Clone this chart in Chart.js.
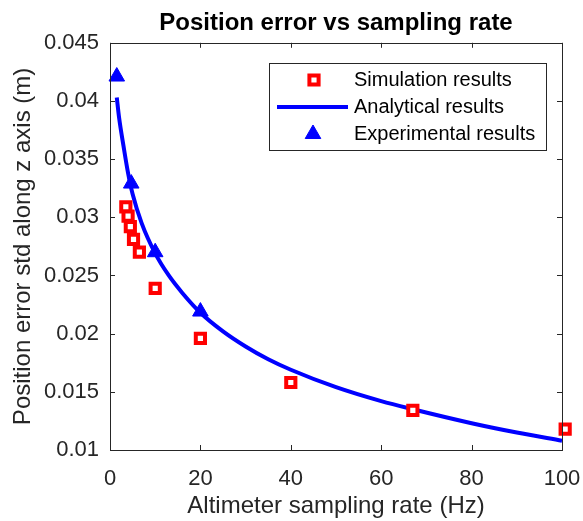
<!DOCTYPE html>
<html>
<head>
<meta charset="utf-8">
<script src="https://cdn.jsdelivr.net/npm/chart.js@4.4.0/dist/chart.umd.min.js"></script>
<style>
  html, body { margin: 0; padding: 0; background: #fff; }
</style>
</head>
<body>
<canvas id="posChart" width="583" height="521"></canvas>
<script>
// values
const simRate = [3.5, 4, 4.5, 5.2, 6.5, 10, 20, 40, 67, 100.7];
const simError = [0.0309, 0.0301, 0.0292, 0.0281, 0.0270, 0.0239, 0.0196, 0.0158, 0.0134, 0.0118];

const anaRate = [1.5, 2, 3, 4, 5, 7, 10, 13, 16, 20, 25, 30, 35, 40, 50, 60, 67, 80, 90, 100];
const anaError = [0.0403, 0.0386, 0.0361, 0.0338, 0.0320, 0.0295, 0.0269, 0.0250, 0.0235, 0.0218,
                  0.0202, 0.0189, 0.0178, 0.0169, 0.0154, 0.0142, 0.0135, 0.0123, 0.0115, 0.0108];

const expRate = [1.5, 4.7, 10, 20];
const expError = [0.0421, 0.0329, 0.0270, 0.0219];

const xTicks = [0, 20, 40, 60, 80, 100];
const yTicks = [0.01, 0.015, 0.02, 0.025, 0.03, 0.035, 0.04, 0.045];
const yTickLabels = ['0.01', '0.015', '0.02', '0.025', '0.03', '0.035', '0.04', '0.045'];

const seriesNames = ['Simulation results', 'Analytical results', 'Experimental results'];

const FONT = '"Liberation Sans", Arial, Helvetica, sans-serif';
const TEXT = '#262626';

const toXY = (xs, ys) => xs.map((x, i) => ({ x, y: ys[i] }));

// MATLAB style box with inward ticks on all four sides + legend inside the axes
const matlabFrame = {
  id: 'matlabFrame',
  afterDatasetsDraw(chart) {
    const { ctx, chartArea: a, scales: { x, y } } = chart;
    ctx.save();
    ctx.strokeStyle = TEXT;
    ctx.lineWidth = 1;
    ctx.beginPath();
    xTicks.forEach(v => {
      const px = Math.round(x.getPixelForValue(v)) + 0.5;
      ctx.moveTo(px, a.bottom); ctx.lineTo(px, a.bottom - 5);
      ctx.moveTo(px, a.top); ctx.lineTo(px, a.top + 5);
    });
    yTicks.forEach(v => {
      const py = Math.round(y.getPixelForValue(v)) + 0.5;
      ctx.moveTo(a.left, py); ctx.lineTo(a.left + 5, py);
      ctx.moveTo(a.right, py); ctx.lineTo(a.right - 5, py);
    });
    ctx.stroke();
    ctx.strokeRect(Math.round(a.left) + 0.5, Math.round(a.top) + 0.5,
                   Math.round(a.right - a.left), Math.round(a.bottom - a.top));
    ctx.restore();
  },
  afterDraw(chart) {
    const ctx = chart.ctx;
    const bx = 269.5, by = 63.5, bw = 277, bh = 87;
    ctx.save();
    ctx.fillStyle = '#fff';
    ctx.fillRect(bx, by, bw, bh);
    ctx.strokeStyle = TEXT;
    ctx.lineWidth = 1;
    ctx.strokeRect(bx, by, bw, bh);

    const rows = [80, 107, 134];
    ctx.font = '20px ' + FONT;
    ctx.fillStyle = '#000';
    ctx.textBaseline = 'middle';
    rows.forEach((ry, i) => ctx.fillText(seriesNames[i], 354, ry));

    const ds = chart.data.datasets;
    // square
    ctx.strokeStyle = ds[0].borderColor;
    ctx.fillStyle = ds[0].backgroundColor;
    ctx.lineWidth = ds[0].borderWidth;
    Chart.helpers.drawPoint(ctx, { pointStyle: 'rect', radius: ds[0].pointRadius, borderWidth: ds[0].borderWidth, rotation: 0 }, 314, rows[0]);
    // line
    ctx.strokeStyle = ds[1].borderColor;
    ctx.lineWidth = ds[1].borderWidth;
    ctx.beginPath(); ctx.moveTo(277, rows[1]); ctx.lineTo(348, rows[1]); ctx.stroke();
    // triangle
    ctx.lineWidth = 1;
    ctx.strokeStyle = ds[2].borderColor;
    ctx.fillStyle = ds[2].backgroundColor;
    Chart.helpers.drawPoint(ctx, { pointStyle: 'triangle', radius: ds[2].pointRadius, borderWidth: 1, rotation: 0 }, 313, rows[2]);
    ctx.restore();
  }
};

const chart = new Chart(document.getElementById('posChart'), {
  type: 'scatter',
  data: {
    datasets: [
      {
        label: seriesNames[0],
        data: toXY(simRate, simError),
        pointStyle: 'rect',
        pointRadius: 6.5,
        borderWidth: 4,
        borderColor: '#ff0000',
        backgroundColor: '#ffffff',
        clip: false
      },
      {
        label: seriesNames[1],
        data: toXY(anaRate, anaError),
        showLine: true,
        pointRadius: 0,
        borderWidth: 4,
        borderColor: '#0000ff',
        backgroundColor: '#0000ff',
        cubicInterpolationMode: 'monotone',
        clip: false
      },
      {
        label: seriesNames[2],
        data: toXY(expRate, expError),
        pointStyle: 'triangle',
        pointRadius: 9,
        borderWidth: 1,
        borderColor: '#0000ff',
        backgroundColor: '#0000ff',
        clip: false
      }
    ]
  },
  options: {
    responsive: false,
    animation: false,
    layout: { padding: { left: 0, right: 21, top: 0, bottom: 0 } },
    plugins: {
      legend: { display: false },
      tooltip: { enabled: false },
      title: {
        display: true,
        text: 'Position error vs sampling rate',
        fullSize: false,
        color: '#000',
        font: { family: FONT, size: 24, weight: 'bold' },
        padding: { top: 9, bottom: 5 }
      }
    },
    scales: {
      x: {
        type: 'linear',
        min: 0,
        max: 100,
        afterBuildTicks: s => { s.ticks = xTicks.map(v => ({ value: v })); },
        grid: { display: false, drawTicks: false },
        border: { display: false },
        ticks: { color: TEXT, font: { family: FONT, size: 22 }, padding: 16, maxRotation: 0 },
        title: {
          display: true,
          text: 'Altimeter sampling rate (Hz)',
          color: TEXT,
          font: { family: FONT, size: 24 },
          padding: { top: 0, bottom: 0 }
        },
        afterFit: s => { s.height = 71; s.paddingLeft = 0; s.paddingRight = 0; }
      },
      y: {
        type: 'linear',
        min: 0.01,
        max: 0.045,
        afterBuildTicks: s => { s.ticks = yTicks.map(v => ({ value: v })); },
        grid: { display: false, drawTicks: false },
        border: { display: false },
        ticks: {
          color: TEXT,
          font: { family: FONT, size: 22 },
          padding: 11,
          callback: v => yTickLabels[yTicks.findIndex(t => Math.abs(t - v) < 1e-9)]
        },
        title: {
          display: true,
          text: 'Position error std along z axis (m)',
          color: TEXT,
          font: { family: FONT, size: 24 },
          padding: { top: 9, bottom: 0 }
        },
        afterFit: s => { s.width = 110; s.paddingTop = 0; s.paddingBottom = 0; }
      }
    }
  },
  plugins: [matlabFrame]
});
</script>
</body>
</html>
